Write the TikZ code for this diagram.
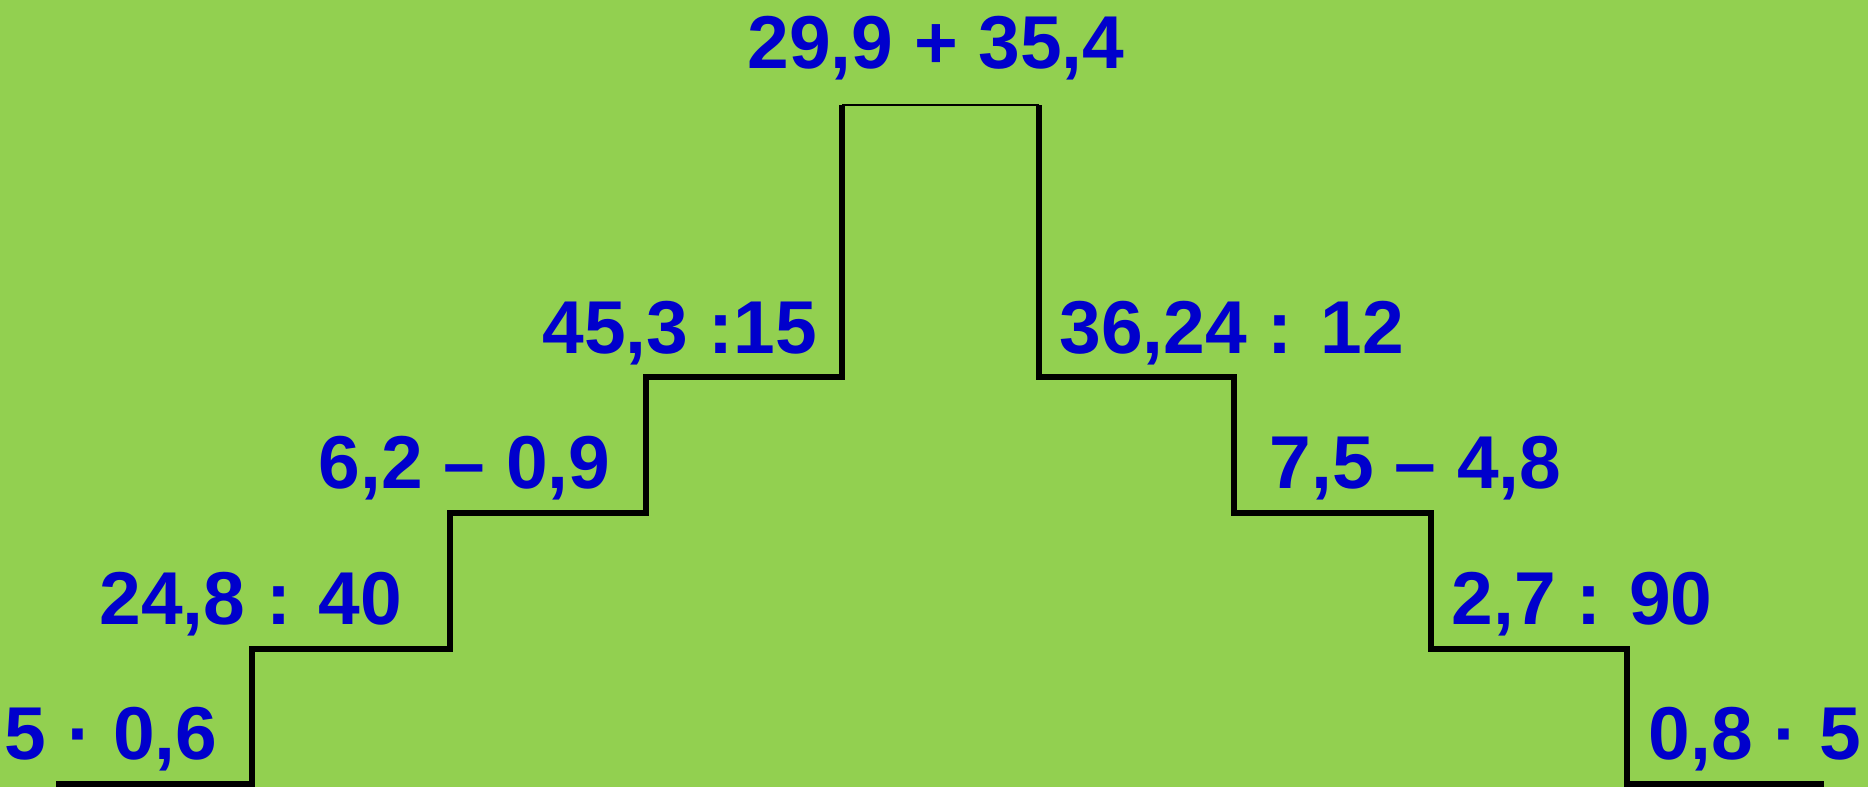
\documentclass[tikz,border=0pt]{standalone}
\usepackage{fontspec}
\setmainfont{Liberation Sans}
\definecolor{grass}{HTML}{92D050}
\definecolor{ink}{HTML}{0000CC}
\begin{document}
\begin{tikzpicture}[x=0.01cm,y=-0.01cm]
 \tikzstyle{t} = [text=ink, font=\fontsize{21.3}{25}\selectfont\bfseries, inner sep=0pt]
    \tikzstyle{e} = [line width=1.9pt]
    \tikzstyle{top} = [line width=0.6pt]
    %%
    \fill[grass] (0,0) rectangle (1868,787);
    \useasboundingbox (0,0) rectangle (1868,787);

        % left stairs
        \coordinate (l0) at (56,784);   \coordinate (l1) at (252,784);
        \coordinate (l2) at (252,649);  \coordinate (l3) at (450,649);
        \coordinate (l4) at (450,513);  \coordinate (l5) at (646,513);
        \coordinate (l6) at (646,377);  \coordinate (l7) at (842,377);
        \coordinate (l8) at (842,105);
        % right stairs
        \coordinate (r8) at (1039,105); \coordinate (r7) at (1039,377);
        \coordinate (r6) at (1234,377); \coordinate (r5) at (1234,513);
        \coordinate (r4) at (1431,513); \coordinate (r3) at (1431,649);
        \coordinate (r2) at (1627,649); \coordinate (r1) at (1627,784);
        \coordinate (r0) at (1824,784);
        \draw[e] (l0)--(l1)--(l2)--(l3)--(l4)--(l5)--(l6)--(l7)--(l8);
        \draw[top] (l8)--(r8);
        \draw[e] (r8)--(r7)--(r6)--(r5)--(r4)--(r3)--(r2)--(r1)--(r0);

        \node[t,anchor=base] (s0) at (936,68) {29,9 + 35,4};
        \node[t,anchor=base east] (a1) at (818,353) {45,3 :15};
        \node[t,anchor=base west] (b1) at (1059,353) {36,24 : 12};
        \node[t,anchor=base east] (a2) at (611,488) {6,2 – 0,9};
        \node[t,anchor=base west] (b2) at (1269,488) {7,5 – 4,8};
        \node[t,anchor=base east] (a3) at (403,624) {24,8 : 40};
        \node[t,anchor=base west] (b3) at (1451,624) {2,7 : 90};
        \node[t,anchor=base east] (a4) at (218,759) {5 · 0,6};
        \node[t,anchor=base west] (b4) at (1648,759) {0,8 · 5};

    \end{tikzpicture}
\end{document}
